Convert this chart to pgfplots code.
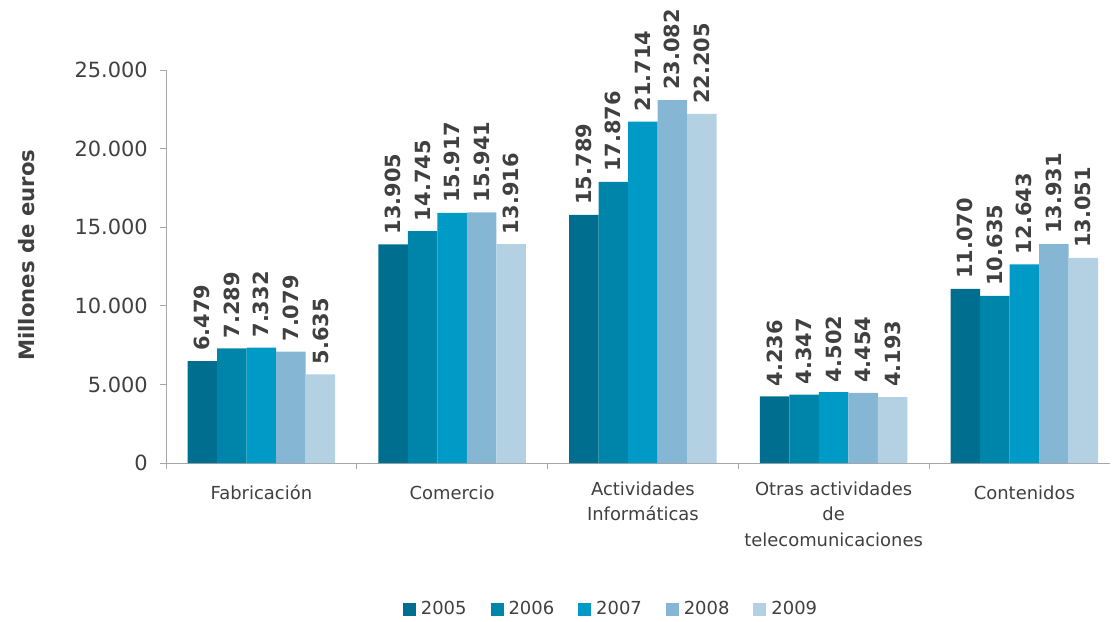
\documentclass[border=0pt]{standalone}
\usepackage{fontspec}
\setmainfont{DejaVu Sans}
\usepackage{pgfplots}
\pgfplotsset{compat=1.18}
\usepackage{pgfplotstable}
\definecolor{c2005}{HTML}{006E8E}
\definecolor{c2006}{HTML}{0085AA}
\definecolor{c2007}{HTML}{009AC6}
\definecolor{c2008}{HTML}{85B7D5}
\definecolor{c2009}{HTML}{B4D1E3}
\definecolor{txt}{HTML}{404040}
\definecolor{axc}{HTML}{A6A6A6}

\pgfplotstableread{
x y2005 y2006 y2007 y2008 y2009
0 6479 7289 7332 7079 5635
1 13905 14745 15917 15941 13916
2 15789 17876 21714 23082 22205
3 4236 4347 4502 4454 4193
4 11070 10635 12643 13931 13051
}\datatable

\begin{document}
\begin{tikzpicture}
\begin{axis}[
  at={(0,0)}, anchor=south west,
  scale only axis, width=944bp, height=393bp,
  xmin=-0.5, xmax=4.449, ymin=0, ymax=25000,
  axis lines*=left,
  axis line style={draw=axc, line width=0.8bp},
  tick style={draw=axc, line width=0.8bp},
  tick align=outside,
  major tick length=6bp,
  minor tick length=6bp,
  xtick={0,1,2,3,4},
  xticklabels={Fabricación, Comercio, {Actividades\\Informáticas}, {Otras actividades\\de\\telecomunicaciones}, Contenidos},
  major x tick style={draw=none},
  minor xtick={-0.5,0.5,1.5,2.5,3.5},
  ytick={0,5000,10000,15000,20000,25000},
  scaled y ticks=false,
  xticklabel style={font=\fontsize{18}{25.5}\selectfont, text=txt, align=center, anchor=north, inner sep=0pt, yshift=-12.5bp, execute at begin node=\strut},
  yticklabel style={font=\fontsize{21}{25}\selectfont, text=txt, anchor=east, inner sep=0pt, xshift=-12bp},
  /pgf/number format/1000 sep={.},
  /pgf/number format/assume math mode=true,
  ybar=0pt, bar width=0.1547,
  nodes near coords,
  every node near coord/.append style={rotate=90, anchor=west, font=\bfseries\fontsize{21}{25}\selectfont, text=txt, inner xsep=10bp, inner ysep=0pt},
  ylabel={Millones de euros},
  every axis y label/.style={at={(axis description cs:-0.1472,0.529)}, rotate=90, anchor=center, font=\bfseries\fontsize{21.3}{25}\selectfont, text=txt},
  legend style={at={(axis description cs:0.473,-0.3715)}, anchor=center, draw=none, legend columns=-1, font=\fontsize{18}{22}\selectfont, text=txt, /tikz/every even column/.append style={column sep=19bp}, nodes={inner xsep=5bp, inner ysep=2bp}},
  legend image code/.code={\fill[#1] (0bp,-6.5bp) rectangle (13bp,6.5bp);},
  clip=false,
]
\addplot[fill=c2005, draw=none] table[x=x, y=y2005] {\datatable};
\addplot[fill=c2006, draw=none] table[x=x, y=y2006] {\datatable};
\addplot[fill=c2007, draw=none] table[x=x, y=y2007] {\datatable};
\addplot[fill=c2008, draw=none] table[x=x, y=y2008] {\datatable};
\addplot[fill=c2009, draw=none] table[x=x, y=y2009] {\datatable};
\legend{2005,2006,2007,2008,2009}
\end{axis}
\pgfresetboundingbox
\path[use as bounding box] (-166bp,-159bp) rectangle (946bp,463bp);
\end{tikzpicture}
\end{document}
